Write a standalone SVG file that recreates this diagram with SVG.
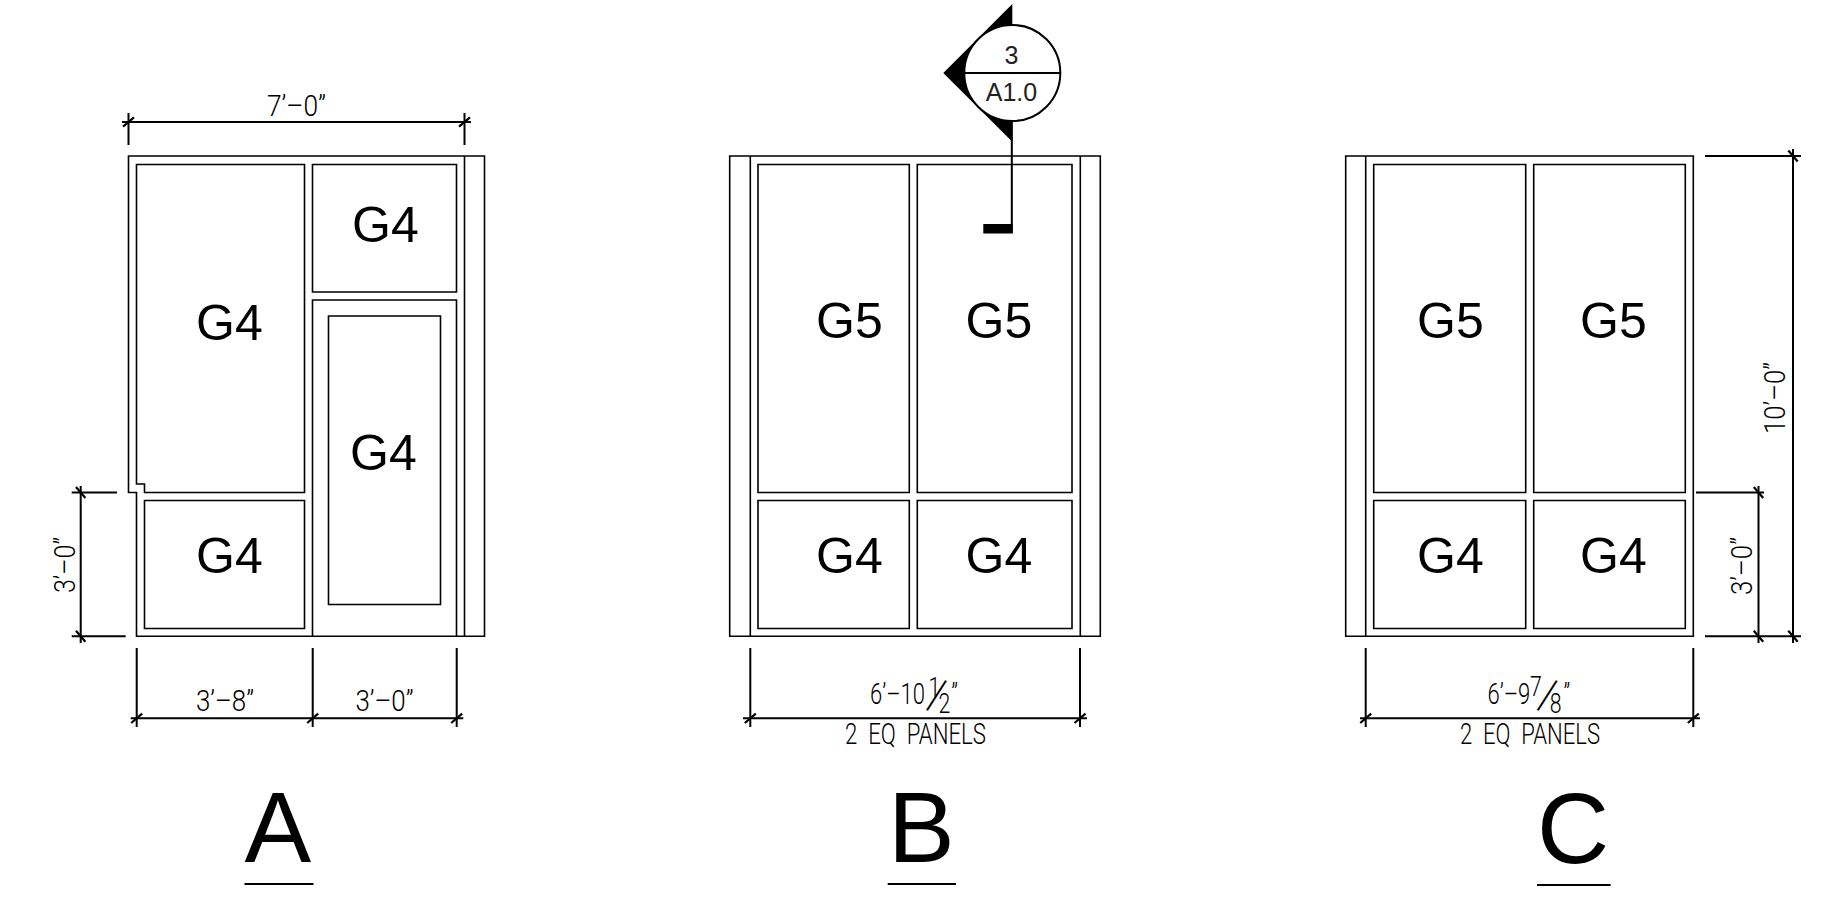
<svg xmlns="http://www.w3.org/2000/svg" width="1834" height="898" viewBox="0 0 1834 898">
<style>
.f{fill:none;stroke:#000;stroke-width:1.6}
.d{fill:none;stroke:#000;stroke-width:2}
.g{font-family:"Liberation Sans",Arial,sans-serif;font-size:50px;fill:#000}
.l{font-family:"Liberation Sans",Arial,sans-serif;font-size:100px;fill:#000}
.s{font-family:"Liberation Sans",Arial,sans-serif;font-size:25px;fill:#222;text-anchor:middle}
.c{font-family:Roboto,"Liberation Sans",sans-serif;font-weight:300;font-size:29px;fill:#000}
</style>
<defs>
<path id="th" d="M-5.500 4.700L5.500-4.700" fill="none" stroke="#000" stroke-width="2.2"/>
<path id="tv" d="M-4.700-5.500L4.700 5.500" fill="none" stroke="#000" stroke-width="2.2"/>
</defs>
<rect width="1834" height="898" fill="#fff"/>

<g id="elevation-a">
<path class="f" d="M464.500 156H128.500V492.500H136.500V636.300H484.500V156H464.500V636.300M456.500 636.300V300H312.500V636.300"/>
<path class="f" d="M136.500 164.500H304.500V492.500H144.500V484H136.500ZM312.500 164.500H456.500V292H312.500ZM144.500 500.500H304.500V628.500H144.500ZM328.500 316H440.500V604.500H328.500Z"/>
<text class="g" x="352" y="242">G4</text>
<text class="g" x="196" y="340">G4</text>
<text class="g" x="350" y="470">G4</text>
<text class="g" x="196" y="573">G4</text>
</g>

<g id="elevation-b">
<path class="f" d="M729.700 156H1100.300V636.300H729.700ZM750.300 156V636.300M1080.300 156V636.300"/>
<path class="f" d="M758 164.500H909.300V492.500H758ZM917.300 164.500H1072V492.500H917.300ZM758 500.500H909.300V628.500H758ZM917.300 500.500H1072V628.500H917.300Z"/>
<text class="g" x="816" y="338">G5</text>
<text class="g" x="965.500" y="338">G5</text>
<text class="g" x="816" y="573">G4</text>
<text class="g" x="965.500" y="573">G4</text>
</g>

<g id="elevation-c">
<path class="f" d="M1345.700 156H1693.300V636.300H1345.700ZM1365.700 156V636.300"/>
<path class="f" d="M1373.700 164.500H1525.700V492.500H1373.700ZM1533.700 164.500H1685.300V492.500H1533.700ZM1373.700 500.500H1525.700V628.500H1373.700ZM1533.700 500.500H1685.300V628.500H1533.700Z"/>
<text class="g" x="1417" y="338">G5</text>
<text class="g" x="1580" y="338">G5</text>
<text class="g" x="1417" y="573">G4</text>
<text class="g" x="1580" y="573">G4</text>
</g>

<g id="section-marker">
<polygon points="1012.300,4 943.300,73 1012.300,141.700" fill="#000"/>
<circle cx="1012.300" cy="73" r="48" fill="#fff" stroke="#000" stroke-width="2"/>
<path class="d" d="M964.300 73H1060.300M1011.800 121V233"/>
<rect x="983.300" y="224" width="29.400" height="9.500" fill="#000"/>
<text class="s" x="1011.500" y="64">3</text>
<text class="s" x="1011.500" y="101">A1.0</text>
</g>

<g id="dimensions">
<path class="d" d="M122 122H471M128.500 113V145M464.500 113V145"/>
<use href="#th" x="128.500" y="122"/><use href="#th" x="464.500" y="122"/>
<text class="c" x="267" y="116" textLength="59" lengthAdjust="spacingAndGlyphs">7’–0”</text>

<path class="d" d="M80.700 486V643M71.700 492.500H117M71.700 636.300H125.700"/>
<use href="#tv" x="80.700" y="492.500"/><use href="#tv" x="80.700" y="636.300"/>
<text class="c" transform="translate(75,593) rotate(-90)" textLength="56" lengthAdjust="spacingAndGlyphs">3’–0”</text>

<path class="d" d="M130.700 718.300H463.300M136.700 648V727M312.700 648V727M456.700 648V727"/>
<use href="#th" x="136.700" y="718.300"/><use href="#th" x="312.700" y="718.300"/><use href="#th" x="456.700" y="718.300"/>
<text class="c" x="196" y="711" textLength="58" lengthAdjust="spacingAndGlyphs">3’–8”</text>
<text class="c" x="355.500" y="711" textLength="58" lengthAdjust="spacingAndGlyphs">3’–0”</text>

<path class="d" d="M743 718.300H1087M750.300 648V727M1080 648V727"/>
<use href="#th" x="750.300" y="718.300"/><use href="#th" x="1080" y="718.300"/>
<text class="c" transform="translate(870,704) scale(.76,1)">6’–10<tspan x="77" y="-7" font-size="28">1</tspan><tspan x="74" y="3" font-size="47" rotate="19">/</tspan><tspan x="90" y="9" font-size="28">2</tspan><tspan x="107" y="0">”</tspan></text>
<text class="c" x="845" y="744" textLength="141" lengthAdjust="spacingAndGlyphs" xml:space="preserve">2  EQ  PANELS</text>

<path class="d" d="M1360 718.300H1700M1365.700 648V727M1693.300 648V727"/>
<use href="#th" x="1365.700" y="718.300"/><use href="#th" x="1693.300" y="718.300"/>
<text class="c" transform="translate(1487.500,704) scale(.76,1)">6’–9<tspan x="56" y="-8" font-size="28">7</tspan><tspan x="65" y="3" font-size="47" rotate="19">/</tspan><tspan x="82" y="9" font-size="28">8</tspan><tspan x="100" y="0">”</tspan></text>
<text class="c" x="1460" y="744" textLength="140" lengthAdjust="spacingAndGlyphs" xml:space="preserve">2  EQ  PANELS</text>

<path class="d" d="M1705 156H1801M1705 636.300H1801M1696 492.500H1764M1793 149V643M1758.500 486V643"/>
<use href="#tv" x="1793" y="156"/><use href="#tv" x="1793" y="636.300"/><use href="#tv" x="1758.500" y="492.500"/><use href="#tv" x="1758.500" y="636.300"/>
<text class="c" transform="translate(1785,434) rotate(-90)" textLength="72" lengthAdjust="spacingAndGlyphs">10’–0”</text>
<text class="c" transform="translate(1752,595) rotate(-90)" textLength="58" lengthAdjust="spacingAndGlyphs">3’–0”</text>
</g>

<g id="titles">
<text class="l" x="244.500" y="862">A</text>
<path class="d" d="M244.500 884H313.500"/>
<text class="l" x="888" y="862">B</text>
<path class="d" d="M887.700 884H956"/>
<text class="l" x="1537" y="863">C</text>
<path class="d" d="M1537 885H1610.700"/>
</g>
</svg>
